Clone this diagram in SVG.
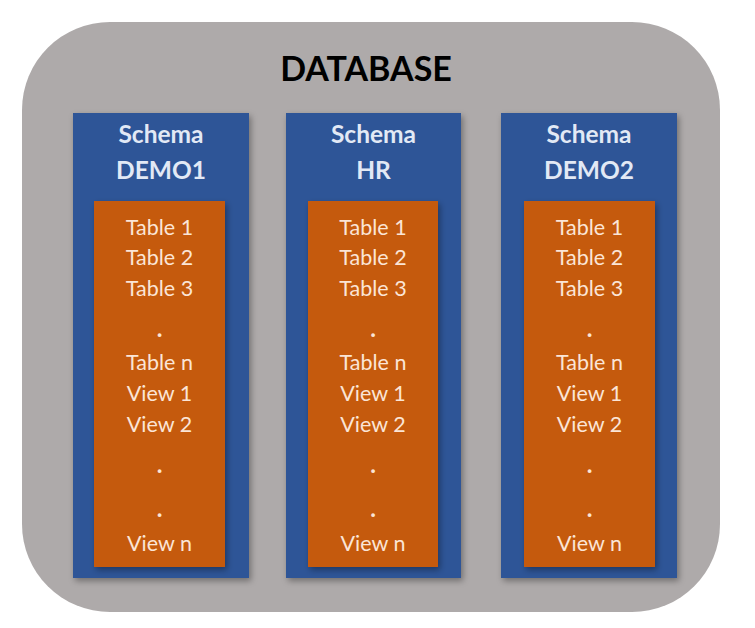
<svg xmlns="http://www.w3.org/2000/svg" width="755" height="628" viewBox="0 0 755 628">
<defs>
<filter id="sh" x="-20%" y="-20%" width="140%" height="140%">
<feDropShadow dx="2" dy="3" stdDeviation="3" flood-color="#000" flood-opacity="0.35"/>
</filter>
</defs>
<style>
.db{fill:#aeaaaa}
.schema{fill:#2f5597;filter:url(#sh)}
.inner{fill:#c55a11;filter:url(#sh)}
.title{font-family:Lato,"Open Sans",sans-serif;font-weight:bold;font-size:34px;fill:#000;text-anchor:middle}
.hd{font-family:Lato,"Open Sans",sans-serif;font-weight:bold;font-size:24.5px;fill:#e2e9f5;text-anchor:middle}
.it{font-family:Lato,"Open Sans",sans-serif;font-size:21.5px;fill:#fbe5d6;text-anchor:middle}
.dot{font-weight:bold;font-size:24px}
</style>
<rect width="755" height="628" fill="#fff"/>
<g id="database">
<rect class="db" x="22" y="22" width="698" height="590" rx="88" ry="88"/>
<text class="title" x="366" y="81">DATABASE</text>
</g>
<g id="schema-demo1">
<rect class="schema" x="73" y="113" width="176" height="465"/>
<text class="hd" x="161" y="143">Schema</text>
<text class="hd" x="161" y="179">DEMO1</text>
<rect class="inner" x="94" y="201" width="131" height="366"/>
<g class="it">
<text x="159.5" y="235">Table 1</text>
<text x="159.5" y="265">Table 2</text>
<text x="159.5" y="296">Table 3</text>
<text class="dot" x="159.5" y="337">.</text>
<text x="159.5" y="370">Table n</text>
<text x="159.5" y="401">View 1</text>
<text x="159.5" y="432">View 2</text>
<text class="dot" x="159.5" y="473">.</text>
<text class="dot" x="159.5" y="517">.</text>
<text x="159.5" y="551">View n</text>
</g>
</g>
<g id="schema-hr">
<rect class="schema" x="286" y="113" width="175" height="465"/>
<text class="hd" x="373.5" y="143">Schema</text>
<text class="hd" x="373.5" y="179">HR</text>
<rect class="inner" x="308" y="201" width="130" height="366"/>
<g class="it">
<text x="373" y="235">Table 1</text>
<text x="373" y="265">Table 2</text>
<text x="373" y="296">Table 3</text>
<text class="dot" x="373" y="337">.</text>
<text x="373" y="370">Table n</text>
<text x="373" y="401">View 1</text>
<text x="373" y="432">View 2</text>
<text class="dot" x="373" y="473">.</text>
<text class="dot" x="373" y="517">.</text>
<text x="373" y="551">View n</text>
</g>
</g>
<g id="schema-demo2">
<rect class="schema" x="501" y="113" width="176" height="465"/>
<text class="hd" x="589" y="143">Schema</text>
<text class="hd" x="589" y="179">DEMO2</text>
<rect class="inner" x="524" y="201" width="131" height="366"/>
<g class="it">
<text x="589.5" y="235">Table 1</text>
<text x="589.5" y="265">Table 2</text>
<text x="589.5" y="296">Table 3</text>
<text class="dot" x="589.5" y="337">.</text>
<text x="589.5" y="370">Table n</text>
<text x="589.5" y="401">View 1</text>
<text x="589.5" y="432">View 2</text>
<text class="dot" x="589.5" y="473">.</text>
<text class="dot" x="589.5" y="517">.</text>
<text x="589.5" y="551">View n</text>
</g>
</g>
<g id="connectors"/>
</svg>
